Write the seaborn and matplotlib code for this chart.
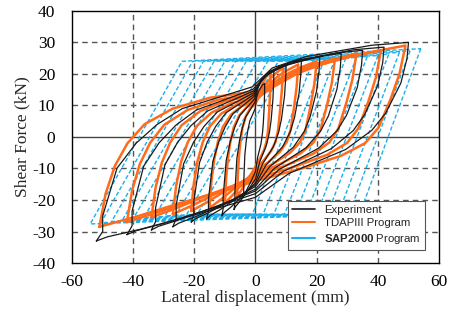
import numpy as np
import pandas as pd
import matplotlib
matplotlib.use("Agg")
import matplotlib.pyplot as plt
from matplotlib.lines import Line2D
import seaborn as sns

sns.set_theme(style="white")
plt.rcParams["font.family"] = ["Liberation Serif", "DejaVu Serif"]
plt.rcParams["axes.unicode_minus"] = False
plt.rcParams["mathtext.fontset"] = "custom"
plt.rcParams["mathtext.bf"] = "Liberation Sans:bold"
plt.rcParams["mathtext.rm"] = "Liberation Sans"

# ----------------------------------------
# Experiment (black): loop shape of the largest cycle, as fraction of peak
# ----------------------------------------
exp_shape_x = [-1, -0.96, -0.96, -0.87, -0.75, -0.62, -0.46, -0.21, -0.02, 0.11, 0.33, 0.76, 1,
               0.99, 0.95, 0.85, 0.76, 0.59, 0.22, 0, -0.41, -0.73, -0.93, -1]
exp_shape_y = [-1, -0.91, -0.76, -0.30, -0.06, 0.13, 0.30, 0.43, 0.53, 0.73, 0.85, 0.97, 1,
               0.83, 0.57, 0.25, 0.07, -0.12, -0.35, -0.58, -0.76, -0.89, -0.96, -1]
exp_pos_x = [3, 6, 10, 15, 21, 28, 35, 42, 50]
exp_pos_f = [17, 21, 23, 24.5, 25.5, 26.5, 27.5, 28.5, 30]
exp_neg_x = [-4, -7, -11, -16, -21, -27, -34, -42, -52]
exp_neg_f = [-19, -23, -25, -26, -27, -28.5, -29.5, -31, -33]

# ----------------------------------------
# TDAPIII (orange)
# ----------------------------------------
tdap_shape_x = [-1, -0.96, -0.90, -0.82, -0.71, -0.53, -0.29, 0, 0.16, 0.31, 0.51, 0.71, 1,
                0.96, 0.90, 0.82, 0.73, 0.57, 0.31, 0, -0.2, -0.49, -0.75, -1]
tdap_shape_y = [-1, -0.63, -0.32, -0.07, 0.14, 0.31, 0.43, 0.5, 0.59, 0.72, 0.83, 0.91, 1,
                0.69, 0.41, 0.10, -0.07, -0.21, -0.35, -0.49, -0.6, -0.74, -0.88, -1]
tdap_pos_x = [5, 9, 14, 20, 26, 33, 41, 49]
tdap_pos_f = [21, 22, 23, 24, 25, 26.5, 27.5, 29]
tdap_neg_x = [-6, -10, -15, -21, -27, -34, -42, -51]
tdap_neg_f = [-19, -21, -22.5, -23.5, -24.5, -25.5, -27, -28.5]

# ----------------------------------------
# SAP2000 (blue): bilinear loops, corner points per cycle
# ----------------------------------------
sap_pos_x = [19, 22.5, 26, 29.5, 33, 36.5, 40, 43.5, 47, 50.5, 54]
sap_pos_f = [24.5, 24.5, 24.7, 25, 25.2, 25.5, 25.8, 26.2, 26.8, 27.3, 28]
sap_unload_x = [-1, 2.5, 6, 9.5, 13, 16.5, 20, 23.5, 27, 30.5, 34]
sap_neg_x = [-19, -22.5, -26, -29.5, -33, -36.5, -40, -43.5, -47, -50.5, -54]
sap_neg_f = [-24.5, -24.6, -24.8, -25, -25.3, -25.6, -26, -26.4, -26.8, -27.2, -27.6]
sap_reload_x = [11, 7.5, 4, 0.5, -3, -6.5, -10, -13.5, -17, -20.5, -24]
sap_yield_top = 24
sap_yield_bot = -24.5

x_ticks = [-60, -40, -20, 0, 20, 40, 60]
y_ticks = [-40, -30, -20, -10, 0, 10, 20, 30, 40]


def scaled_loops(sx, sy, px, pf, nx, nf):
    sx = np.array(sx)
    sy = np.array(sy)
    rows = []
    for i in range(len(px)):
        xs = np.where(sx > 0, sx * px[i], -sx * nx[i])
        ys = np.where(sy > 0, sy * pf[i], -sy * nf[i])
        rows.append(pd.DataFrame({"disp": xs, "force": ys, "loop": i}))
    return pd.concat(rows, ignore_index=True)


exp_df = scaled_loops(exp_shape_x, exp_shape_y, exp_pos_x, exp_pos_f, exp_neg_x, exp_neg_f)
tdap_df = scaled_loops(tdap_shape_x, tdap_shape_y, tdap_pos_x, tdap_pos_f, tdap_neg_x, tdap_neg_f)

sap_rows = []
for i in range(len(sap_pos_x)):
    sap_rows.append(pd.DataFrame({
        "disp": [sap_pos_x[i], sap_unload_x[i], sap_neg_x[i], sap_reload_x[i], sap_pos_x[i]],
        "force": [sap_pos_f[i], sap_yield_bot, sap_neg_f[i], sap_yield_top, sap_pos_f[i]],
        "loop": i}))
sap_df = pd.concat(sap_rows, ignore_index=True)

black = "#1a1a1a"
orange = "#FF6B1C"
blue = "#1AAFEC"

fig = plt.figure(figsize=(4.49, 3.2), dpi=100)
ax = fig.add_axes([0.160, 0.178, 0.818, 0.788])

sns.lineplot(data=sap_df, x="disp", y="force", units="loop", estimator=None, sort=False,
             color=blue, linewidth=1.0, linestyle=(0, (3, 1.6)), ax=ax)
sns.lineplot(data=tdap_df, x="disp", y="force", units="loop", estimator=None, sort=False,
             color=orange, linewidth=1.8, ax=ax)
sns.lineplot(data=exp_df, x="disp", y="force", units="loop", estimator=None, sort=False,
             color=black, linewidth=0.9, ax=ax)

ax.set_xlim(-60, 60)
ax.set_ylim(-40, 40)
ax.set_xticks(x_ticks)
ax.set_yticks(y_ticks)
for v in x_ticks[1:-1]:
    if v == 0:
        ax.axvline(v, color="#444444", lw=1.0, zorder=0)
    else:
        ax.axvline(v, color="#555555", lw=1.0, ls=(0, (4, 3)), zorder=0)
for v in y_ticks[1:-1]:
    if v == 0:
        ax.axhline(v, color="#444444", lw=1.0, zorder=0)
    else:
        ax.axhline(v, color="#555555", lw=1.0, ls=(0, (4, 3)), zorder=0)

for s in ax.spines.values():
    s.set_color("black")
    s.set_linewidth(1.0)

ax.tick_params(axis="both", length=0, labelsize=12.5, colors="black")
ax.tick_params(axis="x", pad=8)
ax.tick_params(axis="y", pad=12)
ax.set_xlabel("Lateral displacement (mm)", fontsize=12.5, labelpad=0)
ax.set_ylabel("Shear Force (kN)", fontsize=12.5, labelpad=1)

handles = [Line2D([], [], color=black, lw=1.2),
           Line2D([], [], color=orange, lw=1.5),
           Line2D([], [], color=blue, lw=1.5)]
labels = ["Experiment", "TDAPIII Program", r"$\bf{SAP2000}$ Program"]
leg = ax.legend(handles, labels, loc="lower right", bbox_to_anchor=(0.977, 0.03),
                prop={"family": "Liberation Sans", "size": 8.2}, frameon=True, fancybox=False,
                framealpha=1, edgecolor="#555555", handlelength=2.0, borderpad=0.35,
                labelspacing=0.3, handletextpad=0.8)
leg.get_frame().set_linewidth(0.8)

fig.savefig("out.png", dpi=100)
